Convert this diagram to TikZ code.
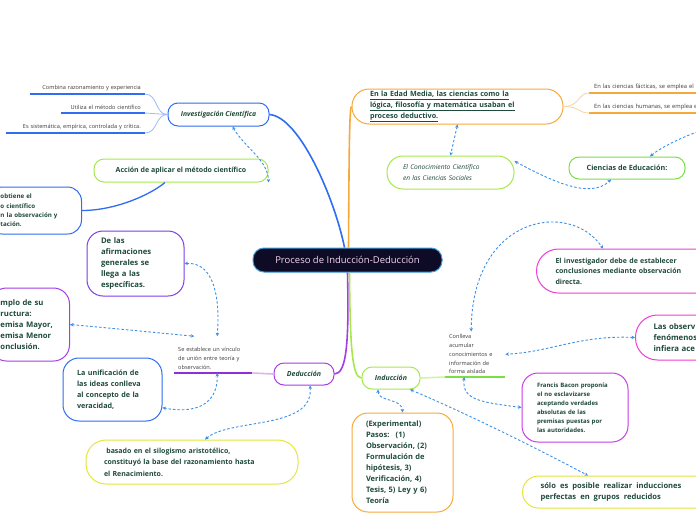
\documentclass[tikz,border=0pt]{standalone}
\usepackage{fontspec}
\setmainfont{Open Sans}
\usetikzlibrary{arrows.meta}
\definecolor{txtgreen}{HTML}{1E4A3A}
\definecolor{txtgrey}{HTML}{3C3C3C}
\definecolor{bluec}{HTML}{2F6DF2}
\definecolor{bluelight}{HTML}{9DBDF8}
\definecolor{violetc}{HTML}{7B3DEE}
\definecolor{purplec}{HTML}{A53DE6}
\definecolor{purpledark}{HTML}{8E2FD8}
\definecolor{purplelight}{HTML}{DDB3F3}
\definecolor{magentac}{HTML}{F03DD6}
\definecolor{orchidc}{HTML}{C63DE8}
\definecolor{limec}{HTML}{A6E84C}
\definecolor{limelight}{HTML}{D2F3A8}
\definecolor{greenc}{HTML}{7ADF45}
\definecolor{yellowc}{HTML}{E6E63C}
\definecolor{orangec}{HTML}{F6A93B}
\definecolor{orangelight}{HTML}{FAD39A}
\definecolor{linkc}{HTML}{3D8FE8}
\definecolor{navyc}{HTML}{0E0B26}
\definecolor{rimc}{HTML}{3C9BDB}
\definecolor{pinkc}{HTML}{F6D8EE}
\newcommand{\fsz}[2]{\fontsize{#1}{#2}\selectfont}
\begin{document}
\begin{tikzpicture}[x=1pt,y=-1pt,
topic/.style={draw, line width=1pt, fill=white, rounded corners=10pt, text=txtgreen, font=\bfseries\fsz{7}{9}, inner sep=3pt},
bigtopic/.style={topic, rounded corners=16pt, align=left, font=\bfseries\fsz{7.2}{11}},
leaf/.style={text=txtgrey, font=\fsz{5.6}{9}, align=left, inner xsep=4pt, inner ysep=3pt},
branch/.style={line width=1.6pt},
sub/.style={line width=0.8pt},
underl/.style={line width=1.6pt},
link/.style={draw=linkc, line width=0.9pt, dash pattern=on 2.5pt off 2pt, {Stealth[length=3.5pt,width=3.5pt]}-{Stealth[length=3.5pt,width=3.5pt]}},
]
\useasboundingbox (0,0) rectangle (696,520);
\clip (0,0) rectangle (696,520);
\fill[white] (0,0) rectangle (696,520);

\node[draw=rimc, line width=1pt, fill=navyc, rounded corners=11pt, text=pinkc, font=\fsz{9.5}{11}, minimum width=189pt, minimum height=24pt] (proc) at (347.5,260) {Proceso de Inducción-Deducción};

\node[topic, draw=bluec, font=\bfseries\itshape\fsz{6.8}{9}, minimum width=101pt, minimum height=23pt] (inv) at (218.5,114.5) {Investigación Científica};
\node[leaf, text width=107pt, align=right, anchor=south east] (c1) at (145,94) {Combina razonamiento y experiencia};
\node[leaf, text width=76pt, align=right, anchor=south east] (c2) at (145,113) {Utiliza el método científico};
\node[leaf, text width=131pt, align=right, anchor=south east] (c3) at (145,133) {Es sistemática, empírica, controlada y crítica.};
\node[topic, draw=limec, minimum width=174pt, minimum height=23pt] (acc) at (181,170.5) {Acción de aplicar el método científico};
\node[topic, draw=bluec, rounded corners=14pt, font=\bfseries\fsz{6.2}{9.3}, align=left, text width=69pt, inner xsep=12pt, minimum height=47pt, anchor=west] (obt) at (-12,210.5) {obtiene el\\o científico\\n la observación y\\tación.};

\node[bigtopic, draw=violetc, font=\bfseries\fsz{7.7}{11}, text width=69pt, inner xsep=14pt, minimum height=65pt] (dela) at (135.5,263.5) {De las\\afirmaciones\\generales se\\llega a las\\específicas.};
\node[bigtopic, draw=purplec, font=\bfseries\fsz{7.7}{11}, text width=59pt, inner xsep=10pt, minimum height=73pt, anchor=west] (ej) at (-10,324.5) {mplo de su\\ructura:\\emisa Mayor,\\emisa Menor\\onclusión.};
\node[leaf, text width=70pt, anchor=south west] (s1) at (174,373) {Se establece un vínculo\\de unión entre teoría y\\observación.};
\node[topic, draw=purplec, font=\bfseries\itshape\fsz{7}{9}, minimum width=60pt, minimum height=22pt] (ded) at (304,374) {Deducción};
\node[bigtopic, draw=bluec, text width=71pt, inner xsep=14pt, minimum height=63pt] (uni) at (112.5,389.5) {La unificación de\\las ideas conlleva\\al concepto de la\\veracidad,};
\node[bigtopic, draw=yellowc, rounded corners=20pt, font=\bfseries\fsz{7}{11.5}, text width=176pt, inner xsep=18pt, minimum height=44pt] (yel) at (192,462) {\ basado en el silogismo aristotélico,\\constituyó la base del razonamiento hasta\\el Renacimiento.};

\node[bigtopic, draw=orangec, rounded corners=17pt, text width=175pt, inner xsep=18pt, inner ysep=1pt, minimum height=35pt] (edad) at (457.5,106.5) {\underline{En la Edad Media, las ciencias como la}\\\underline{lógica, filosofía y matemática usaban el}\\\underline{proceso deductivo.}};
\node[leaf, font=\fsz{5.8}{9}, text width=150pt, inner xsep=5pt, anchor=south west] (f1) at (589,93) {En las ciencias fácticas, se emplea el};
\node[leaf, font=\fsz{5.8}{9}, text width=150pt, inner xsep=5pt, anchor=south west] (f2) at (589,113) {En las ciencias humanas, se emplea e};
\node[bigtopic, draw=limec, font=\itshape\fsz{6.6}{11}, text width=95pt, inner xsep=16pt, minimum height=33pt] (soc) at (450.5,172.5) {El Conocimiento Científico\\en las Ciencias Sociales};
\node[topic, draw=greenc, font=\bfseries\fsz{7.2}{9}, minimum width=116pt, minimum height=22pt] (edu) at (627,168) {Ciencias de Educación:};

\node[topic, draw=limec, font=\bfseries\itshape\fsz{7}{9}, minimum width=58pt, minimum height=22pt] (ind) at (391,378) {Inducción};
\node[leaf, font=\fsz{5.6}{8.7}, text width=52pt, anchor=south west] (con) at (445,377) {Conlleva\\acumular\\conocimientos e\\información de\\forma aislada};
\node[bigtopic, draw=magentac, rounded corners=22pt, font=\bfseries\fsz{7}{10.5}, text width=160pt, inner xsep=19pt, minimum height=44pt, anchor=west] (inve) at (536,271) {El investigador debe de establecer\\conclusiones mediante observación\\directa.};
\node[bigtopic, draw=magentac, rounded corners=22pt, font=\bfseries\fsz{7.8}{11}, text width=100pt, inner xsep=18pt, minimum height=45pt, anchor=west] (obs) at (635,337.5) {Las observ\\fenómenos\\infiera ace};
\node[bigtopic, draw=orchidc, font=\bfseries\fsz{6}{9}, text width=76pt, inner xsep=15pt, minimum height=69pt] (bac) at (575,407.5) {Francis Bacon proponía\\el no esclavizarse\\aceptando verdades\\absolutas de las\\premisas puestas por\\las autoridades.};
\node[bigtopic, draw=orangec, font=\bfseries\fsz{7.5}{11}, text width=73pt, inner xsep=14pt, minimum height=99pt] (exp) at (402.5,462.5) {(Experimental)\\Pasos:~ (1)\\Observación, (2)\\Formulación de\\hipótesis, 3)\\Verificación, 4)\\Tesis, 5) Ley y 6)\\Teoría};
\node[bigtopic, draw=yellowc, font=\bfseries\fsz{7.6}{11}, text width=180pt, inner xsep=18pt, minimum height=32pt, anchor=west] (sol) at (522,492) {\spaceskip=4pt sólo es posible realizar inducciones\\perfectas en grupos reducidos};
\coordinate (rim) at (700,131);

\draw[branch, bluec] (inv.east) .. controls (300,117) and (335,200) .. ([xshift=-3pt]proc.north);
\draw[branch, orangec] ([xshift=1pt]proc.north) .. controls (349,180) and (349,106.5) .. (edad.west);
\draw[branch, purplec] (proc.south) .. controls (349,340) and (347,374) .. (ded.east);
\draw[branch, limec] ([xshift=2pt]proc.south) .. controls (350,345) and (352,378) .. (ind.west);

\draw[underl, bluec] (c1.south west) -- (c1.south east);
\draw[underl, bluec] (c2.south west) -- (c2.south east);
\draw[underl, bluec] (c3.south west) -- (c3.south east);
\draw[sub, bluelight] (inv.west) .. controls (155,114.5) and (158,94) .. (c1.south east);
\draw[sub, bluelight] (inv.west) -- (c2.south east);
\draw[sub, bluelight] (inv.west) .. controls (155,114.5) and (158,133) .. (c3.south east);
\draw[branch, bluec, line width=1.3pt] ([xshift=-16pt]acc.south) .. controls (150,195) and (115,210.5) .. (obt.east);
\draw[underl, purpledark] (s1.south west) -- (s1.south east);
\draw[underl, purplelight] (s1.south east) -- (ded.west);
\draw[underl, orangec] (f1.south west) -- (f1.south east);
\draw[underl, orangec] (f2.south west) -- (f2.south east);
\draw[sub, orangelight] (edad.east) .. controls (580,106.5) and (578,93) .. (f1.south west);
\draw[sub, orangelight] (edad.east) .. controls (580,106.5) and (578,113) .. (f2.south west);
\draw[underl, greenc] (con.south west) -- (con.south east);
\draw[underl, limelight] (ind.east) -- (con.south west);

\draw[link] ([xshift=14pt]inv.south) .. controls (245,148) and (268,160) .. (acc.south east);
\draw[link] (dela.east) .. controls (215,262) and (220,300) .. ([xshift=4pt,yshift=8pt]s1.north);
\draw[link] (ej.east) .. controls (120,329) and (160,333) .. ([xshift=-19pt,yshift=8pt]s1.north);
\draw[link] ([xshift=4pt]s1.south) .. controls (218,405) and (195,414) .. (uni.-20);
\draw[link] ([xshift=6pt]ded.south) .. controls (314,430) and (230,418) .. ([xshift=13pt]yel.north);
\draw[link] (edad.south) -- (soc.north);
\draw[link] (soc.10) .. controls (550,180) and (590,200) .. ([xshift=-16pt]edu.south);
\draw[link] (rim) .. controls (680,138) and (660,148) .. ([xshift=23pt]edu.north);
\draw[link] ([xshift=-4pt]con.north) .. controls (472,215) and (570,200) .. ([xshift=67pt]inve.north west);
\draw[link] (obs.west) .. controls (580,335) and (550,352) .. (con.east);
\draw[link] ([xshift=-11pt]con.south) .. controls (462,400) and (480,402) .. (bac.west);
\draw[link] ([xshift=-13pt]ind.south) .. controls (378,402) and (402,398) .. (exp.north);
\draw[link] ([xshift=19pt]ind.south) .. controls (470,415) and (540,450) .. ([xshift=66pt]sol.north west);
\end{tikzpicture}
\end{document}
